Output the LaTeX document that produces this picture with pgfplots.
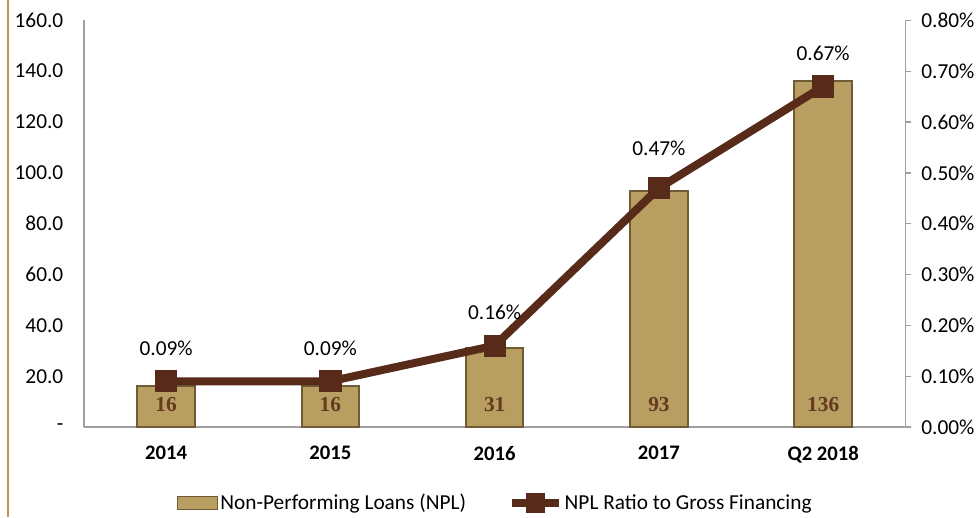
\documentclass[border=0pt]{standalone}
\usepackage{fontspec}
\setmainfont{Carlito}
\newfontfamily\serifb{Liberation Serif}
\usepackage{pgfplots}
\pgfplotsset{compat=1.18}
\definecolor{barfill}{RGB}{184,158,96}
\definecolor{baredge}{RGB}{112,92,52}
\definecolor{linec}{RGB}{87,42,26}
\definecolor{axgray}{RGB}{160,160,160}
\definecolor{lblbrown}{RGB}{100,58,32}
\definecolor{goldline}{RGB}{190,150,80}
\begin{document}
\begin{tikzpicture}
\begin{axis}[name=ax, scale only axis, width=616pt, height=305pt,
  xmin=-0.5, xmax=4.5, ymin=0, ymax=160,
  axis x line*=bottom, axis y line*=left,
  axis line style={-, draw=axgray, line width=1pt},
  xtick={0,1,2,3,4}, xticklabels={2014,2015,2016,2017,Q2 2018},
  xtick style={draw=none},
  x tick label style={font=\bfseries\fontsize{15.5}{18}\selectfont, yshift=-11pt},
  ytick={0,20,40,60,80,100,120,140,160},
  yticklabels={-,20.0,40.0,60.0,80.0,100.0,120.0,140.0,160.0},
  ytick style={draw=none},
  y tick label style={font=\fontsize{16}{19}\selectfont, xshift=-12pt},
  clip=false]
\addplot[ybar, bar width=0.35, bar shift=0pt, fill=barfill, draw=baredge, line width=1.5pt]
  coordinates {(0,16) (1,16) (2,31) (3,93) (4,136)};
\addplot[draw=none, mark=none, nodes near coords, point meta=explicit symbolic,
  every node near coord/.append style={anchor=center, yshift=16.5pt,
    font=\serifb\bfseries\fontsize{16}{19}\selectfont, text=lblbrown}]
  coordinates {(0,0)[16] (1,0)[16] (2,0)[31] (3,0)[93] (4,0)[136]};
\end{axis}
\begin{axis}[at={(ax.south west)}, anchor=south west, scale only axis, width=616pt, height=305pt,
  xmin=-0.5, xmax=4.5, ymin=0, ymax=0.8,
  axis x line=none, axis y line*=right,
  axis line style={-, draw=axgray, line width=1pt},
  ytick={0,0.1,0.2,0.3,0.4,0.5,0.6,0.7,0.8},
  yticklabels={0.00\%,0.10\%,0.20\%,0.30\%,0.40\%,0.50\%,0.60\%,0.70\%,0.80\%},
  tick align=outside, major tick length=4.5pt,
  ytick style={draw=axgray, line width=1pt},
  y tick label style={font=\fontsize{16}{19}\selectfont, xshift=4pt},
  clip=false,
  legend style={at={(0.501,-0.187)}, anchor=center, draw=none, fill=none,
    font=\fontsize{16}{19}\selectfont, legend columns=2,
    nodes={inner xsep=1.5pt},
    /tikz/every even column/.append style={column sep=30pt}},
  legend cell align=left]
\addlegendimage{legend image code/.code={\fill[barfill, draw=baredge, line width=0.8pt] (0pt,-5pt) rectangle (30pt,5pt);}}
\addlegendentry{Non-Performing Loans (NPL)}
\addlegendimage{legend image code/.code={\draw[linec, line width=6pt] (0pt,0pt) -- (35pt,0pt); \fill[linec] (11pt,-7pt) rectangle (24pt,7pt);}}
\addlegendentry{NPL Ratio to Gross Financing}
\addplot[forget plot, color=linec, line width=6pt, mark=square*, mark size=8pt,
  mark options={line width=0pt, fill=linec}]
  coordinates {(0,0.09) (1,0.09) (2,0.16) (3,0.47) (4,0.67)};
\addplot[forget plot, draw=none, mark=none, nodes near coords, point meta=explicit symbolic,
  every node near coord/.append style={anchor=center, yshift=25pt,
    font=\fontsize{16}{19}\selectfont, text=black}]
  coordinates {(0,0.09)[0.09\%] (1,0.09)[0.09\%] (2,0.16)[0.16\%] (4,0.67)[0.67\%]};
\addplot[forget plot, draw=none, mark=none, nodes near coords, point meta=explicit symbolic,
  every node near coord/.append style={anchor=center, yshift=30pt,
    font=\fontsize{16}{19}\selectfont, text=black}]
  coordinates {(3,0.47)[0.47\%]};
\end{axis}
\draw[goldline, line width=1.1pt] ([xshift=-57pt, yshift=-67.5pt]ax.south west) -- ++(0pt,387.75pt);
\pgfresetboundingbox
\path ([xshift=-63pt, yshift=-67.5pt]ax.south west) rectangle ++(735pt,387.75pt);
\end{tikzpicture}
\end{document}
